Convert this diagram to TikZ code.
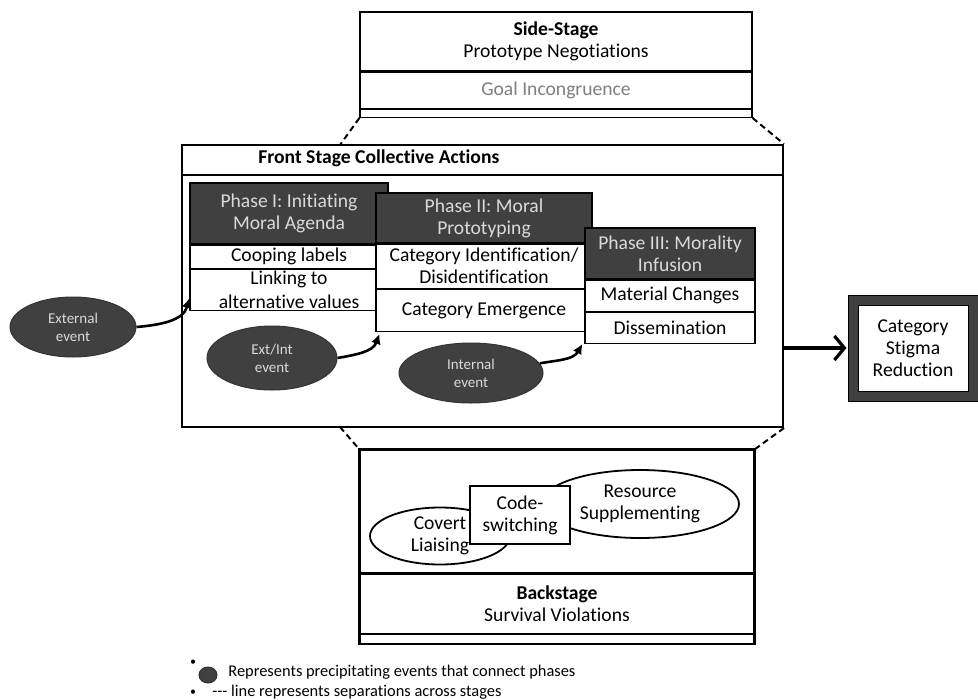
\documentclass[tikz,border=0pt]{standalone}
\usepackage{fontspec}
\setmainfont{Carlito}[Ligatures={TeX,NoCommon}]
\usetikzlibrary{positioning,shapes.geometric,arrows.meta}

\definecolor{phasedark}{HTML}{404040}
\definecolor{phasetext}{HTML}{DADADA}
\definecolor{goalgray}{HTML}{7F7F7F}

\newcommand\boxfont{\fontsize{9.8}{11}\selectfont}
\newcommand\eventfont{\fontsize{7.5}{9}\selectfont}
\newcommand\legendfont{\fontsize{8.2}{10}\selectfont}

\tikzset{
    stagebox/.style={draw, line width=0.6pt, fill=white, inner sep=0pt, align=center, font=\boxfont},
    phasehead/.style={stagebox, fill=phasedark, text=phasetext},
    eventnode/.style={ellipse, draw=black!80, line width=0.5pt, fill=phasedark, text=phasetext,
        inner sep=0pt, align=center, font=\eventfont},
    tactic/.style={ellipse, draw, line width=0.9pt, fill=white, inner sep=0pt},
    tacticlabel/.style={align=center, font=\boxfont, inner sep=0pt},
    eventarrow/.style={-{Latex[length=5pt,width=5pt]}, line width=1.3pt},
    bigarrow/.style={-{Straight Barb[length=5pt,width=12pt]}, line width=1.6pt},
    stageline/.style={dash pattern=on 3pt off 2pt, line width=1pt},
    legendtext/.style={anchor=west, inner sep=0pt, font=\legendfont}
}

\begin{document}
\begin{tikzpicture}[x=0.5pt,y=-0.5pt]
    \useasboundingbox (0,0) rectangle (978,700);

    % side stage
    \node[stagebox, minimum width=196pt, minimum height=29.5pt] (sidetop) at (556,41.5)
        {\textbf{Side-Stage}\\Prototype Negotiations};
    \node[stagebox, below=0pt of sidetop, minimum width=196pt, minimum height=18pt, text=goalgray] (sidegoal)
        {Goal Incongruence};
    \node[stagebox, below=0pt of sidegoal, minimum width=196pt, minimum height=4pt] (sidebot) {};

    % front stage
    \node[draw, line width=1pt, minimum width=300.5pt, minimum height=141pt] (front) at (482.5,286) {};
    \draw[line width=0.6pt] ([yshift=-15.5pt]front.north west) -- ([yshift=-15.5pt]front.north east);
    \node[anchor=west, inner sep=0pt, font=\boxfont\bfseries] (fronttitle) at (258,158)
        {Front Stage Collective Actions};

    % phase I
    \node[phasehead, minimum width=99pt, minimum height=30.5pt] (p1head) at (289,213.5)
        {Phase I: Initiating\\Moral Agenda};
    \node[stagebox, below=0pt of p1head, minimum width=99pt, minimum height=11.5pt] (p1a) {Cooping labels};
    \node[stagebox, below=0pt of p1a, minimum width=99pt, minimum height=20.5pt] (p1b)
        {Linking to\\[1pt]alternative values};

    % phase II
    \node[phasehead, minimum width=108pt, minimum height=25pt] (p2head) at (484,218)
        {Phase II: Moral\\Prototyping};
    \node[stagebox, below=0pt of p2head, minimum width=108pt, minimum height=22pt] (p2a)
        {Category Identification/\\Disidentification};
    \node[stagebox, below=0pt of p2a, minimum width=108pt, minimum height=21pt] (p2b) {Category Emergence};

    % phase III
    \node[phasehead, minimum width=85pt, minimum height=25.5pt] (p3head) at (670,253.5)
        {Phase III: Morality\\Infusion};
    \node[stagebox, below=0pt of p3head, minimum width=85pt, minimum height=15.5pt] (p3a) {Material Changes};
    \node[stagebox, below=0pt of p3a, minimum width=85pt, minimum height=15.5pt] (p3b) {Dissemination};

    % precipitating events
    \node[eventnode, minimum width=63pt, minimum height=30pt] (extev) at (73,327) {External\\event};
    \node[eventnode, minimum width=65pt, minimum height=32pt] (eiev) at (272,358) {Ext/Int\\event};
    \node[eventnode, minimum width=72pt, minimum height=30pt] (intev) at (471,373) {Internal\\event};

    \draw[eventarrow] (extev.east) to[out=5,in=-105] ([yshift=6.5pt]p1b.south west);
    \draw[eventarrow] (eiev.east) to[out=10,in=-110] ([xshift=2pt,yshift=-1pt]p2b.south west);
    \draw[eventarrow] (intev.8) to[out=10,in=-120] ([xshift=-1pt]p3b.south west);

    % outcome
    \node[draw, line width=0.5pt, double=phasedark, double distance=4.5pt, fill=white,
        minimum width=60pt, minimum height=48pt, inner sep=0pt, align=center, font=\boxfont] (cat)
        at (913,348) {Category\\Stigma\\Reduction};
    \draw[bigarrow, shorten >=3pt] (front.east |- cat.west) -- (cat.west);

    % backstage
    \node[stagebox, minimum width=197pt, minimum height=61.5pt] (backtop) at (557,511.5) {};
    \node[stagebox, below=0pt of backtop, minimum width=197pt, minimum height=29.5pt] (backmid)
        {\textbf{Backstage}\\Survival Violations};
    \node[stagebox, below=0pt of backmid, minimum width=197pt, minimum height=4.5pt] (backbot) {};
    \draw[line width=1pt] (backtop.north west) rectangle (backbot.south east);

    \node[tactic, minimum width=70pt, minimum height=28.5pt,
        label={[tacticlabel]center:{Covert\\Liaising}}] (covert) at (440,536) {};
    \node[tactic, minimum width=99pt, minimum height=34pt,
        label={[tacticlabel]center:{Resource\\Supplementing}}] (resource) at (640,504) {};
    \node[stagebox, minimum width=50pt, minimum height=29pt] (codeswitch) at (520,515) {Code-\\switching};

    % separations across stages
    \coordinate (fronttopl) at (340,145);
    \coordinate (frontbotl) at (340,427);
    \draw[stageline] (sidebot.south west) -- (fronttopl);
    \draw[stageline] (sidebot.south east) -- (front.north east);
    \draw[stageline] (frontbotl) -- (backtop.north west);
    \draw[stageline] (front.south east) -- (backtop.north east);

    % legend
    \node[inner sep=0pt, font=\fontsize{6}{6}\selectfont] (bull1) at (193,663) {\textbullet};
    \node[eventnode, minimum width=9pt, minimum height=8pt] (legdot) at (208,675) {};
    \node[legendtext] (legtext1) at (228,672) {Represents precipitating events that connect phases};
    \node[inner sep=0pt, font=\fontsize{6}{6}\selectfont] (bull2) at (193,693) {\textbullet};
    \node[legendtext] (legtext2) at (212,692) {{-}{-}{-} line represents separations across stages};
\end{tikzpicture}
\end{document}
